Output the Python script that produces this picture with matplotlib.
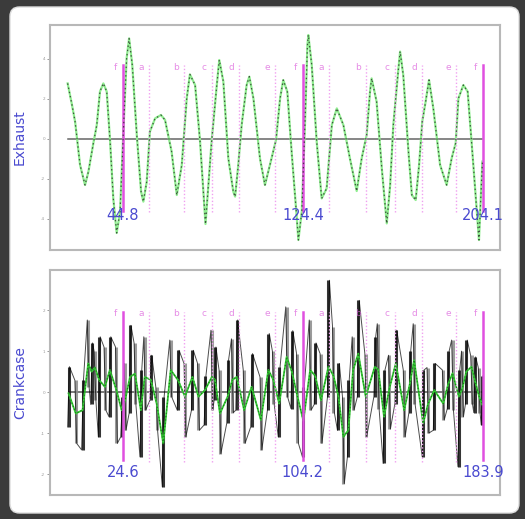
import numpy as np
import matplotlib
matplotlib.use("Agg")
import matplotlib.pyplot as plt
from matplotlib.patches import FancyBboxPatch

# exhaust pressure trace
ex_t = [20.3, 22.1, 23.6, 25.8, 28.0, 29.5, 31.7, 33.2, 34.6, 36.1, 37.6, 39.1,
        40.5, 42.0, 43.5, 44.9, 46.4, 47.5, 48.9, 50.9, 52.8, 53.8, 55.3, 56.7,
        59.0, 61.6, 63.4, 66.3, 68.6, 70.8, 73.0, 74.4, 76.7, 78.9, 81.3, 84.0,
        86.3, 87.4, 89.2, 91.4, 93.6, 94.4, 95.8, 97.3, 99.5, 100.7, 102.5, 105.4,
        107.6, 109.8, 112.5, 114.3, 115.7, 117.5, 119.4, 121.7, 122.4, 123.9, 125.3,
        126.4, 126.8, 128.3, 130.5, 132.7, 134.9, 137.2, 139.4, 142.3, 145.2, 148.2,
        150.4, 152.6, 154.1, 154.8, 157.0, 159.3, 161.5, 163.0, 164.4, 166.4, 167.4,
        168.8, 171.1, 172.6, 174.3, 175.8, 177.2, 178.7, 180.2, 182.1, 185.1, 188.0,
        190.2, 192.0, 193.2, 195.4, 197.3, 199.8, 201.8, 202.3, 203.8]
ex_v = [2.78, 1.78, 0.87, -1.3, -2.3, -1.63, -0.2, 0.7, 2.37, 2.78, 2.37, -0.13,
        -2.97, -4.7, -3.63, 0.2, 4.03, 5.03, 3.7, 0.2, -2.63, -3.13, -2.13, 0.37,
        1.03, 1.2, 0.95, -0.63, -2.8, -1.3, 2.03, 3.23, 2.7, -0.13, -4.25, -0.13,
        2.7, 3.95, 2.87, -0.97, -2.63, -2.88, -1.3, 0.7, 2.7, 3.12, 2.03, -0.97,
        -2.3, -1.3, -0.05, 2.03, 2.95, 2.37, -0.63, -3.97, -5.05, -3.63, 0.7,
        4.7, 5.2, 3.7, -0.13, -2.97, -2.47, 0.7, 1.53, 0.7, -0.97, -2.6,
        -0.97, 0.2, 2.37, 3.03, 1.87, -1.47, -4.22, -2.3, 0.7, 3.2, 4.37,
        3.2, -0.63, -2.8, -3.05, -1.3, 0.87, 1.87, 2.95, 1.53, -1.3, -2.3,
        -0.97, -0.2, 2.03, 2.7, 2.37, -1.3, -4.3, -5.05, -1.13]

# crankcase trace: sample position, spike low/high and smoothed value
cc_t = [0.5, 3.7, 6.7, 9.2, 10.7, 12.2, 14.1, 16.6, 18.8, 21.7, 24.0, 25.5,
        27.7, 29.9, 32.5, 34.2, 36.9, 39.5, 42.4, 45.7, 49.0, 52.0, 55.3, 58.0,
        60.9, 63.9, 65.3, 67.5, 70.9, 73.0, 74.9, 78.2, 81.5, 85.6, 88.9, 91.1,
        93.7, 97.0, 99.3, 101.8, 104.4, 107.4, 109.6, 112.2, 115.5, 117.7, 119.9,
        122.1, 124.3, 126.4, 128.7, 132.0, 136.0, 137.5, 140.1, 142.5, 145.3, 149.0,
        151.5, 153.4, 157.4, 159.5, 162.3, 166.3, 168.5, 170.4, 173.2, 174.8, 176.5,
        178.8, 180.2, 182.2, 183.5]
cc_lo = [-0.85, -1.25, -1.41, 0.13, -0.3, -0.2, -1.09, -0.44, -0.6, -1.25, -1.09,
         -0.93, -0.52, -0.3, -1.58, -0.44, -0.2, -0.93, -2.31, -0.11, -0.44, -1.09,
         -0.44, -0.93, -0.8, -0.44, -0.2, -1.5, -0.76, -0.5, -0.44, -1.25, -0.85,
         -1.41, -0.44, -0.3, -1.09, -0.11, -0.4, -1.25, -1.58, -0.44, -0.3, -1.25,
         -0.11, -0.5, -0.93, -2.23, -1.58, -0.44, -0.11, -1.09, -0.11, -0.4, -1.74,
         -0.9, -0.28, -1.09, -0.5, -0.28, -1.58, -1.0, -0.93, -0.68, -0.4, -0.44,
         -1.82, -0.6, -0.3, -0.28, -0.5, -0.52, -0.8]
cc_hi = [0.62, 0.29, 0.29, 1.76, 1.2, 1.0, 1.35, 1.1, 1.35, 1.1, -0.11, 0.7,
         1.63, 1.2, 0.54, 1.35, 0.9, 0.13, -0.11, 1.27, 1.02, 0.7, 1.02, 0.7,
         0.4, 1.51, 1.1, 0.54, 0.78, 1.3, 1.76, 0.54, 0.94, 0.37, 1.43, 1.0,
         0.62, 2.08, 1.5, 0.94, 0.13, 1.76, 1.2, 0.94, 2.73, 1.6, 0.7, -0.11,
         0.3, 1.35, 2.24, 0.94, 1.35, 1.67, 0.54, 0.9, 1.51, 0.54, 1.0, 1.67,
         0.54, 0.6, 0.7, 0.54, 1.0, 1.27, 0.54, 1.0, 1.27, 0.9, 0.86, 0.6, 0.4]
cc_mid = [-0.03, -0.52, -0.44, 0.7, 0.5, 0.6, 0.29, 0.13, 0.54, 0.05, -0.44,
          -0.2, 0.37, 0.45, -0.44, 0.37, 0.3, -0.28, -1.25, 0.54, 0.29, -0.11,
          0.37, -0.11, 0.05, 0.37, 0.3, -0.52, -0.11, 0.3, 0.37, -0.44, 0.13,
          -0.68, 0.54, 0.3, -0.28, 0.86, 0.5, -0.11, -0.7, 0.54, 0.4, -0.2,
          0.62, 0.4, -0.1, -1.09, -0.93, 0.54, 0.94, -0.11, 0.62, 0.55, -0.6,
          0.1, 0.7, -0.44, 0.2, 0.78, -0.76, -0.3, 0.05, -0.28, 0.2, 0.46,
          -0.11, 0.1, 0.5, 0.62, 0.3, -0.11, -0.3]

marks = ["f", "a", "b", "c", "d", "e", "f", "a", "b", "c", "d", "e", "f"]
ex_marks = [44.8, 56.3, 71.8, 84.2, 96.1, 112.1, 124.4, 135.9, 152.3, 165.1, 177.1, 192.1, 204.1]
cc_marks = [24.6, 36.1, 51.6, 64.0, 75.9, 91.9, 104.2, 115.7, 132.1, 144.9, 156.9, 171.9, 183.9]

W, H = 525, 519
fig = plt.figure(figsize=(W / 100, H / 100), dpi=100)
fig.patch.set_facecolor("#3b3b3b")
panel = FancyBboxPatch((10 / W, 6 / H), 509 / W, 506 / H,
                       boxstyle="round,pad=0,rounding_size=0.018",
                       transform=fig.transFigure, facecolor="white",
                       edgecolor="#dddddd", lw=1, zorder=-10)
fig.add_artist(panel)

blue = "#4a4ad0"
pink = "#dd66dd"


def draw_marks(ax, pos, top, bottom, label_y, num_y, dx):
    for m, p in zip(marks, pos):
        if m == "f":
            ax.plot([p, p], [bottom * 0.98, top], color="#e050e0", lw=1.8, zorder=4)
            ax.text(p, num_y, f"{p:.1f}", color=blue, fontsize=10.5,
                    ha="center", va="center", zorder=6, clip_on=False)
        else:
            ax.plot([p, p], [bottom, top], color="#f0a0f0", lw=1.0, ls=(0, (1, 1.5)), zorder=4)
        ax.text(p - dx, label_y, m, color=pink, fontsize=6.5, ha="center",
                va="center", alpha=0.75, zorder=6)


def style(ax, ylabel, ticks):
    ax.set_facecolor("none")
    for s in ax.spines.values():
        s.set_color("#b8b8b8")
        s.set_linewidth(1.5)
    ax.set_xticks([])
    ax.set_yticks(ticks)
    ax.set_yticklabels([str(t) for t in ticks], fontsize=3, color="#999999")
    ax.tick_params(axis="y", length=2.5, width=0.6, color="#888888", pad=1)
    ax.set_ylabel(ylabel, color=blue, fontsize=10, labelpad=10)


# exhaust panel
ax1 = fig.add_axes([50 / W, 1 - 250 / H, 450 / W, 225 / H])
ax1.axhline(0, xmin=(ex_t[0] - 12.5) / 199.1, xmax=(ex_t[-1] - 12.5) / 199.1,
            color="#666666", lw=1.1, zorder=2)
ax1.plot(ex_t, ex_v, color="#90ee90", lw=1.6, zorder=3)
ax1.plot(ex_t, ex_v, color="#222222", lw=0.9, ls=(0, (1.2, 2.2)), alpha=0.75, zorder=5)
draw_marks(ax1, ex_marks, 3.7, -3.65, 3.6, -3.85, 3.5)
ax1.set_xlim(12.5, 211.6)
ax1.set_ylim(-5.55, 5.7)
style(ax1, "Exhaust", [-4, -2, 0, 2, 4])

# crankcase panel
ax2 = fig.add_axes([50 / W, 1 - 495 / H, 450 / W, 225 / H])
ax2.axhline(0, xmin=(cc_t[0] + 7.7) / 199.1, xmax=(cc_t[-1] + 7.7) / 199.1,
            color="#555555", lw=1.1, zorder=2)
cols = ["#111111" if i % 2 == 0 else "#8a8a8a" for i in range(len(cc_t))]
ax2.vlines(cc_t, cc_lo, cc_hi, colors=cols, lw=2.2, alpha=0.85, zorder=3)
# thin black trace zig-zags between each sample's low and high
zig_t, zig_v = [], []
for i, (t, lo, hi) in enumerate(zip(cc_t, cc_lo, cc_hi)):
    zig_t += [t - 0.4, t + 0.4]
    zig_v += [lo, hi] if i % 2 == 0 else [hi, lo]
ax2.plot(zig_t, zig_v, color="black", lw=0.7, alpha=0.7, zorder=3)
ax2.plot(cc_t, cc_mid, color="#33cc33", lw=1.3, zorder=4)
ax2.plot(cc_t, cc_mid, color="#1d6e1d", lw=0.8, ls=(0, (1, 2)), zorder=4)
draw_marks(ax2, cc_marks, 1.95, -1.7, 1.92, -1.95, 3.5)
ax2.set_xlim(-7.7, 191.4)
ax2.set_ylim(-2.51, 2.98)
style(ax2, "Crankcase", [-2, -1, 0, 1, 2])

fig.savefig("out.png", dpi=100, facecolor=fig.get_facecolor())
